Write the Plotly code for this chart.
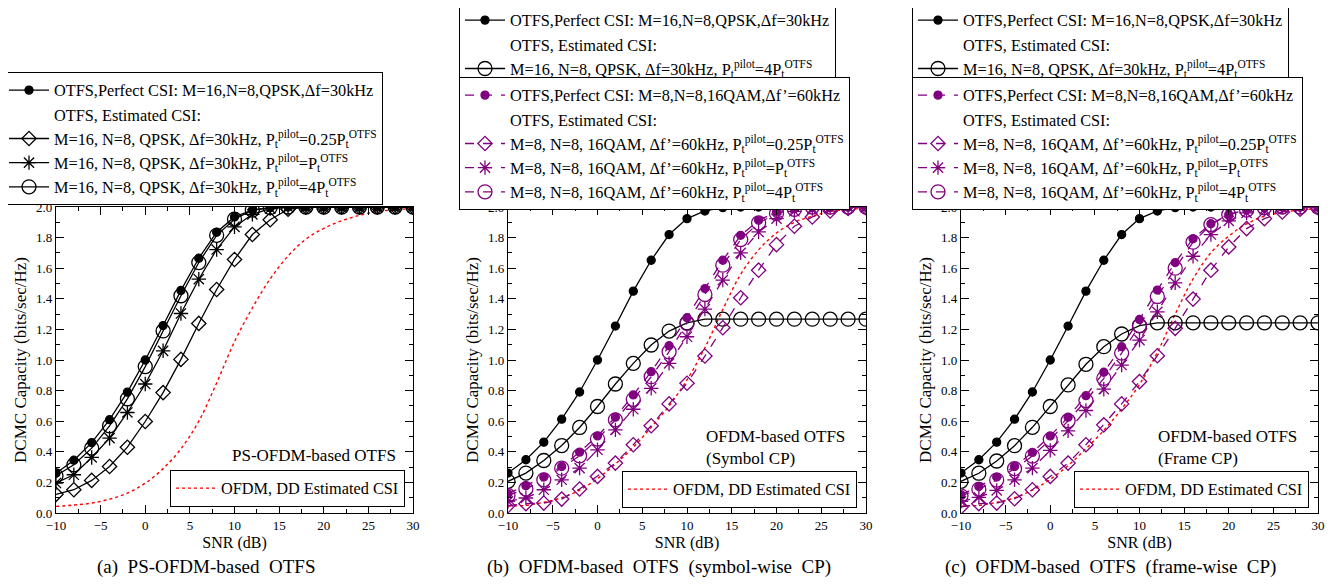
import plotly.graph_objects as go

OFF = 8  # default page margin of the html body
W, H = 1343 - 2 * OFF, 585 - 2 * OFF
SNR = list(range(-10, 31, 2))

# Panel (a): PS-OFDM-based OTFS
a_perfect = [0.26, 0.345, 0.46, 0.61, 0.79, 1.0, 1.225, 1.455, 1.665, 1.835, 1.935, 1.98, 1.995, 2.0, 2.0, 2.0, 2.0, 2.0, 2.0, 2.0, 2.0]
a_est_025 = [0.122, 0.152, 0.213, 0.304, 0.43, 0.598, 0.787, 1.004, 1.239, 1.461, 1.657, 1.82, 1.917, 1.985, 2.0, 2.0, 2.0, 2.0, 2.0, 2.0, 2.0]
a_est_1 = [0.196, 0.25, 0.363, 0.489, 0.657, 0.843, 1.06, 1.304, 1.528, 1.722, 1.87, 1.952, 1.99, 2.0, 2.0, 2.0, 2.0, 2.0, 2.0, 2.0, 2.0]
a_est_4 = [0.243, 0.315, 0.424, 0.57, 0.746, 0.957, 1.19, 1.42, 1.637, 1.815, 1.92, 1.98, 1.996, 2.0, 2.0, 2.0, 2.0, 2.0, 2.0, 2.0, 2.0]
a_ofdm = [0.043, 0.052, 0.065, 0.09, 0.13, 0.195, 0.29, 0.42, 0.6, 0.85, 1.12, 1.34, 1.53, 1.68, 1.79, 1.86, 1.91, 1.945, 1.97, 1.982, 1.99]

# Panel (b): OFDM-based OTFS, symbol-wise CP
b_perfect_qpsk = [0.261, 0.348, 0.463, 0.613, 0.791, 1.0, 1.222, 1.45, 1.652, 1.82, 1.924, 1.974, 1.996, 2.0, 2.0, 2.0, 2.0, 2.0, 2.0, 2.0, 2.0]
b_qpsk_4 = [0.207, 0.261, 0.343, 0.441, 0.559, 0.696, 0.843, 0.978, 1.098, 1.189, 1.243, 1.267, 1.267, 1.267, 1.267, 1.267, 1.267, 1.267, 1.267, 1.267, 1.267]
b_perfect_16 = [0.126, 0.178, 0.235, 0.304, 0.398, 0.504, 0.626, 0.772, 0.924, 1.093, 1.276, 1.467, 1.652, 1.815, 1.913, 1.967, 1.989, 2.0, 2.0, 2.0, 2.0]
b_16_4 = [0.115, 0.157, 0.217, 0.293, 0.374, 0.483, 0.609, 0.743, 0.891, 1.054, 1.239, 1.428, 1.62, 1.787, 1.896, 1.957, 1.985, 2.0, 2.0, 2.0, 2.0]
b_16_1 = [0.076, 0.098, 0.152, 0.217, 0.293, 0.413, 0.543, 0.678, 0.815, 0.978, 1.152, 1.333, 1.522, 1.7, 1.837, 1.924, 1.972, 1.99, 2.0, 2.0, 2.0]
b_16_025 = [0.048, 0.061, 0.065, 0.091, 0.157, 0.239, 0.326, 0.446, 0.57, 0.713, 0.848, 1.026, 1.211, 1.407, 1.587, 1.754, 1.874, 1.935, 1.974, 1.99, 1.996]
b_ofdm = [0.045, 0.05, 0.07, 0.1, 0.15, 0.225, 0.32, 0.43, 0.56, 0.7, 0.87, 1.08, 1.33, 1.56, 1.72, 1.83, 1.9, 1.94, 1.97, 1.985, 1.99]

# Panel (c): OFDM-based OTFS, frame-wise CP
c_perfect_qpsk = [0.261, 0.348, 0.463, 0.613, 0.791, 1.0, 1.222, 1.45, 1.652, 1.82, 1.924, 1.974, 1.996, 2.0, 2.0, 2.0, 2.0, 2.0, 2.0, 2.0, 2.0]
c_qpsk_4 = [0.207, 0.26, 0.34, 0.44, 0.56, 0.696, 0.837, 0.972, 1.087, 1.17, 1.224, 1.243, 1.243, 1.243, 1.243, 1.243, 1.243, 1.243, 1.243, 1.243, 1.243]
c_perfect_16 = [0.12, 0.174, 0.235, 0.304, 0.396, 0.504, 0.626, 0.767, 0.92, 1.087, 1.265, 1.457, 1.637, 1.793, 1.891, 1.95, 1.983, 1.996, 2.0, 2.0, 2.0]
c_16_4 = [0.112, 0.155, 0.215, 0.29, 0.372, 0.48, 0.603, 0.735, 0.88, 1.045, 1.225, 1.415, 1.6, 1.77, 1.885, 1.95, 1.98, 1.995, 2.0, 2.0, 2.0]
c_16_1 = [0.076, 0.102, 0.148, 0.217, 0.293, 0.409, 0.537, 0.67, 0.809, 0.967, 1.13, 1.315, 1.504, 1.678, 1.82, 1.909, 1.961, 1.985, 2.0, 2.0, 2.0]
c_16_025 = [0.039, 0.061, 0.065, 0.093, 0.152, 0.239, 0.326, 0.446, 0.576, 0.713, 0.859, 1.028, 1.207, 1.398, 1.587, 1.739, 1.859, 1.924, 1.967, 1.985, 1.996]
c_ofdm = [0.045, 0.05, 0.07, 0.1, 0.15, 0.22, 0.31, 0.42, 0.54, 0.68, 0.84, 1.05, 1.3, 1.53, 1.7, 1.81, 1.89, 1.94, 1.965, 1.98, 1.99]

x_ticks = [-10, -5, 0, 5, 10, 15, 20, 25, 30]
y_ticks = [0.0, 0.2, 0.4, 0.6, 0.8, 1.0, 1.2, 1.4, 1.6, 1.8, 2.0]

lbl_perf_qpsk = "OTFS,Perfect CSI: M=16,N=8,QPSK,\u0394f=30kHz"
lbl_header = "OTFS, Estimated CSI:"
lbl_q025 = "M=16, N=8, QPSK, \u0394f=30kHz, P<sub>t</sub><sup>pilot</sup>=0.25P<sub>t</sub><sup>OTFS</sup>"
lbl_q1 = "M=16, N=8, QPSK, \u0394f=30kHz, P<sub>t</sub><sup>pilot</sup>=P<sub>t</sub><sup>OTFS</sup>"
lbl_q4 = "M=16, N=8, QPSK, \u0394f=30kHz, P<sub>t</sub><sup>pilot</sup>=4P<sub>t</sub><sup>OTFS</sup>"
lbl_perf_16 = "OTFS,Perfect CSI: M=8,N=8,16QAM,\u0394f\u2019=60kHz"
lbl_s025 = "M=8, N=8, 16QAM, \u0394f\u2019=60kHz, P<sub>t</sub><sup>pilot</sup>=0.25P<sub>t</sub><sup>OTFS</sup>"
lbl_s1 = "M=8, N=8, 16QAM, \u0394f\u2019=60kHz, P<sub>t</sub><sup>pilot</sup>=P<sub>t</sub><sup>OTFS</sup>"
lbl_s4 = "M=8, N=8, 16QAM, \u0394f\u2019=60kHz, P<sub>t</sub><sup>pilot</sup>=4P<sub>t</sub><sup>OTFS</sup>"
lbl_ofdm = "OFDM, DD Estimated CSI"

FONT = "Liberation Serif"
PURPLE = "#800080"
BLACK = "black"

fig = go.Figure()


def add(x, y, name, ax, leg, color, symbol, size, dash="solid", mfill=None, lw=1.3, mlw=1.3):
    fig.add_trace(go.Scatter(
        x=x, y=y, name=name, mode="lines+markers",
        xaxis="x" + ax, yaxis="y" + ax, legend=leg,
        line=dict(color=color, width=lw, dash=dash),
        marker=dict(symbol=symbol, size=size, color=mfill if mfill else color,
                    line=dict(color=color, width=mlw)),
    ))


def header(ax, leg):
    fig.add_trace(go.Scatter(x=[None], y=[None], name=lbl_header, mode="lines",
                             xaxis="x" + ax, yaxis="y" + ax, legend=leg,
                             line=dict(color="rgba(0,0,0,0)", width=1)))


def ofdm(x, y, ax, leg):
    fig.add_trace(go.Scatter(x=x, y=y, name=lbl_ofdm, mode="lines", line_shape="spline",
                             xaxis="x" + ax, yaxis="y" + ax, legend=leg,
                             line=dict(color="red", width=1.4, dash="dot")))


# Panel a
ofdm(SNR, a_ofdm, "", "legend2")
add(SNR, a_perfect, lbl_perf_qpsk, "", "legend", BLACK, "circle", 8)
header("", "legend")
add(SNR, a_est_025, lbl_q025, "", "legend", BLACK, "diamond-open", 11)
add(SNR, a_est_1, lbl_q1, "", "legend", BLACK, "asterisk-open", 12)
add(SNR, a_est_4, lbl_q4, "", "legend", BLACK, "circle-open", 14)

# Panel b
ofdm(SNR, b_ofdm, "2", "legend5")
add(SNR, b_perfect_qpsk, lbl_perf_qpsk, "2", "legend3", BLACK, "circle", 8)
header("2", "legend3")
add(SNR, b_qpsk_4, lbl_q4, "2", "legend3", BLACK, "circle-open", 14)
add(SNR, b_perfect_16, lbl_perf_16, "2", "legend4", PURPLE, "circle", 8, dash="dash")
header("2", "legend4")
add(SNR, b_16_025, lbl_s025, "2", "legend4", PURPLE, "diamond-open", 11, dash="dash")
add(SNR, b_16_1, lbl_s1, "2", "legend4", PURPLE, "asterisk-open", 12, dash="dash")
add(SNR, b_16_4, lbl_s4, "2", "legend4", PURPLE, "circle-open", 14, dash="dash")

# Panel c
ofdm(SNR, c_ofdm, "3", "legend8")
add(SNR, c_perfect_qpsk, lbl_perf_qpsk, "3", "legend6", BLACK, "circle", 8)
header("3", "legend6")
add(SNR, c_qpsk_4, lbl_q4, "3", "legend6", BLACK, "circle-open", 14)
add(SNR, c_perfect_16, lbl_perf_16, "3", "legend7", PURPLE, "circle", 8, dash="dash")
header("3", "legend7")
add(SNR, c_16_025, lbl_s025, "3", "legend7", PURPLE, "diamond-open", 11, dash="dash")
add(SNR, c_16_1, lbl_s1, "3", "legend7", PURPLE, "asterisk-open", 12, dash="dash")
add(SNR, c_16_4, lbl_s4, "3", "legend7", PURPLE, "circle-open", 14, dash="dash")


def px_x(p):
    return (p - OFF) / W


def px_y(p):
    return 1 - (p - OFF) / H


ydom = [px_y(513), px_y(207)]
xdoms = [(56, 413), (508, 866), (961, 1318)]

axis_common = dict(showline=True, linecolor="black", linewidth=1.3, mirror="allticks",
                   ticks="inside", ticklen=8, tickwidth=1.2, tickcolor="black",
                   showgrid=False, zeroline=False, automargin=False,
                   tickfont=dict(family=FONT, size=13, color="black"))

layout = dict(width=W, height=H, margin=dict(l=0, r=0, t=0, b=0, autoexpand=False),
              paper_bgcolor="white", plot_bgcolor="white",
              font=dict(family=FONT, color="black"))

for i, (l, r) in enumerate(xdoms):
    suf = "" if i == 0 else str(i + 1)
    layout["xaxis" + suf] = dict(axis_common, domain=[px_x(l), px_x(r)], range=[-10, 30],
                                 tickvals=x_ticks, anchor="y" + suf,
                                 minor=dict(dtick=2.5, tick0=0, ticks="inside", ticklen=4,
                                            tickcolor="black", tickwidth=1.2),
                                 title=dict(text="SNR (dB)", font=dict(family=FONT, size=16),
                                            standoff=5))
    layout["yaxis" + suf] = dict(axis_common, domain=ydom, range=[0, 2],
                                 tickvals=y_ticks, tickformat=".1f", anchor="x" + suf,
                                 minor=dict(dtick=0.1, tick0=0, ticks="inside", ticklen=4,
                                            tickcolor="black", tickwidth=1.2),
                                 title=dict(text="DCMC Capacity (bits/sec/Hz)",
                                            font=dict(family=FONT, size=17), standoff=5))

leg_common = dict(bgcolor="white", bordercolor="black", borderwidth=1,
                  font=dict(family=FONT, size=16.3, color="black"),
                  xanchor="left", yanchor="top", itemwidth=40,
                  tracegroupgap=0)
leg_pos = {
    "legend": (3, 72), "legend2": (170, 470),
    "legend3": (459, 2), "legend4": (459, 77), "legend5": (622, 471),
    "legend6": (912, 2), "legend7": (912, 77), "legend8": (1074, 471),
}
for k, (lx, ly) in leg_pos.items():
    layout[k] = dict(leg_common, x=px_x(lx), y=px_y(ly))

fig.update_layout(**layout)

ann = []
captions = [("(a)  PS-OFDM-based  OTFS", 206),
            ("(b)  OFDM-based  OTFS  (symbol-wise  CP)", 659),
            ("(c)  OFDM-based  OTFS  (frame-wise  CP)", 1110)]
for txt, cx in captions:
    ann.append(dict(text=txt, x=px_x(cx), y=px_y(567), xref="paper", yref="paper",
                    showarrow=False, xanchor="center", yanchor="middle",
                    font=dict(family=FONT, size=19, color="black")))
ann.append(dict(text="PS-OFDM-based OTFS", x=px_x(398), y=px_y(455), xref="paper", yref="paper",
                showarrow=False, xanchor="right", yanchor="middle",
                font=dict(family=FONT, size=17, color="black")))
ann.append(dict(text="OFDM-based OTFS<br>(Symbol CP)", x=px_x(704), y=px_y(447), xref="paper",
                yref="paper", showarrow=False, xanchor="left", yanchor="middle", align="left",
                font=dict(family=FONT, size=17, color="black")))
ann.append(dict(text="OFDM-based OTFS<br>(Frame CP)", x=px_x(1156), y=px_y(447), xref="paper",
                yref="paper", showarrow=False, xanchor="left", yanchor="middle", align="left",
                font=dict(family=FONT, size=17, color="black")))
fig.update_layout(annotations=ann)

fig.write_html("out.html")
